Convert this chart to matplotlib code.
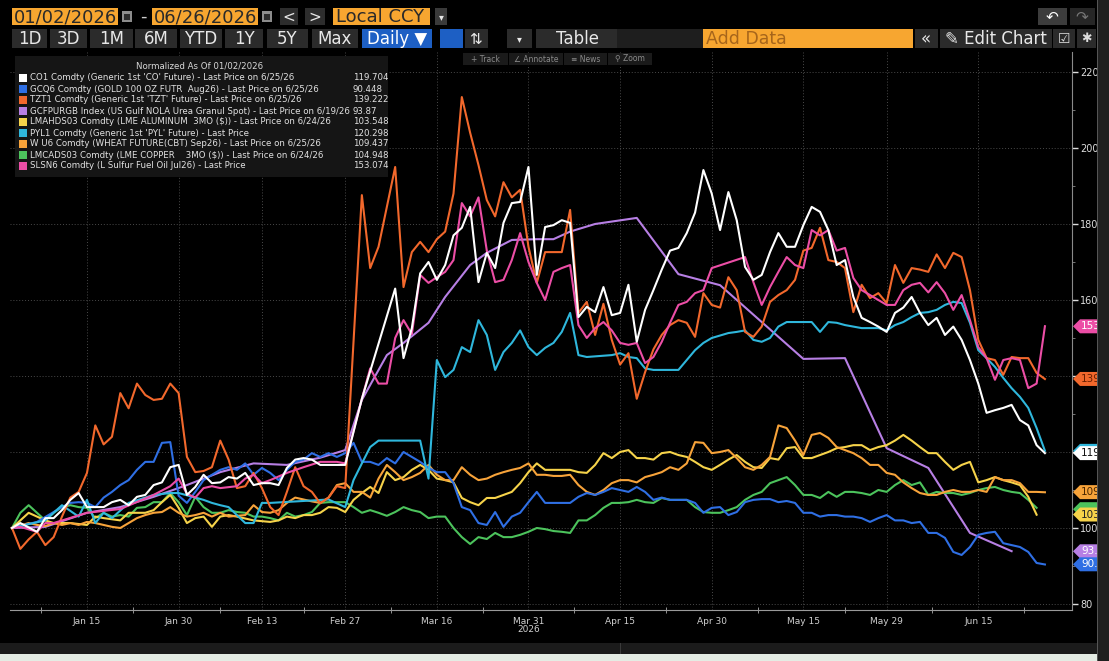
import pandas as pd
import matplotlib
matplotlib.use('Agg')
import matplotlib.pyplot as plt
from matplotlib.patches import Rectangle, Polygon
from matplotlib.lines import Line2D
from matplotlib.transforms import blended_transform_factory

W, H = 1109, 661
NARROW = ['Liberation Sans Narrow', 'DejaVu Sans']
WIDE = ['DejaVu Sans']
plt.rcParams['font.family'] = NARROW

# trading days of the window, series are given as (trading day offset, normalized value)
days = pd.bdate_range('2026-01-02', '2026-06-26')
tick_dates = ['2026-01-15', '2026-01-30', '2026-02-13', '2026-02-27', '2026-03-16', '2026-03-31',
              '2026-04-15', '2026-04-30', '2026-05-15', '2026-05-29', '2026-06-15']

co1 = [(0, 100), (1, 101.3), (3, 99), (4, 102.6), (5, 102.6), (6, 104.7), (7, 107.4), (8, 109.2), (9, 105.5),
       (10, 105.5), (11, 105.5), (12, 106.8), (13, 107.4), (14, 106), (15, 108.2), (16, 108.7), (17, 111.3),
       (18, 112), (19, 116), (20, 116.6), (21, 108.7), (22, 110.8), (23, 114), (24, 111.8), (25, 112),
       (26, 113.4), (27, 113), (28, 114.5), (29, 111.3), (30, 111.8), (31, 111.8), (32, 111.3), (33, 115.8),
       (34, 118), (35, 118.4), (36, 118), (37, 116.6), (38, 116.6), (39, 116.6), (40, 116.6), (42, 134),
       (46, 163), (47, 144.7), (48, 152.6), (49, 167), (50, 170), (51, 165.3), (52, 169.2), (53, 177),
       (54, 179), (55, 184.5), (56, 164.7), (57, 172.4), (58, 168.4), (59, 180.3), (60, 185.5), (61, 185.8),
       (62, 195), (63, 166.6), (64, 179.2), (65, 179.7), (66, 181), (67, 180.3), (68, 155.5), (69, 158.2),
       (70, 156.8), (71, 163.4), (72, 156), (73, 156.6), (74, 164), (75, 149), (76, 157.4), (77, 162.6),
       (78, 168), (79, 173), (80, 173.7), (81, 177.6), (82, 183), (83, 194.2), (84, 188), (85, 178.4),
       (86, 188.4), (87, 181), (88, 168.7), (89, 165.3), (90, 166.6), (91, 172.6), (92, 177.6), (93, 174),
       (94, 174), (95, 179.7), (96, 184.5), (97, 183.2), (98, 178.4), (99, 169.2), (100, 170.5), (101, 160.8),
       (102, 155.3), (103, 154.2), (104, 153), (105, 151.6), (106, 156.6), (107, 158), (108, 160.8),
       (109, 156.6), (110, 153.4), (111, 155.3), (112, 150.8), (113, 153), (114, 149.5), (115, 144.2),
       (116, 138), (117, 130.3), (118, 131), (119, 131.6), (120, 132.4), (121, 128.4), (122, 127),
       (123, 121.8), (124, 119.7)]

gcq6 = [(0, 100), (3, 101.6), (6, 105.5), (7, 106.6), (8, 106.8), (9, 106.6), (10, 105.5), (11, 108),
        (12, 109.5), (13, 111.3), (14, 112.6), (15, 115.3), (16, 117.4), (17, 117.4), (18, 122.4), (19, 122.6),
        (20, 108.5), (21, 106.6), (22, 109.5), (23, 112.6), (24, 114), (25, 115.3), (26, 116), (27, 115.3),
        (28, 117), (29, 114), (30, 115.8), (31, 114.5), (32, 112.6), (33, 115.3), (34, 117.4), (35, 118),
        (36, 119.7), (37, 118.7), (38, 119.7), (39, 118.7), (40, 119.7), (41, 122.4), (42, 117.4), (43, 117.4),
        (44, 116.6), (45, 118.4), (46, 117), (47, 120), (48, 118.7), (49, 117.4), (50, 115.8), (51, 114.7),
        (52, 114.7), (53, 111.8), (54, 105.5), (55, 104.7), (56, 101.3), (57, 100.8), (58, 104.2), (59, 100.3),
        (60, 103), (61, 104), (62, 106.8), (63, 109.5), (64, 106.6), (67, 106.6), (68, 108.2), (69, 109.2),
        (70, 108.7), (71, 109.5), (72, 110.5), (73, 110), (74, 109.5), (75, 110.8), (76, 109.5), (77, 107.4),
        (78, 108), (79, 107.4), (81, 107.4), (82, 106.6), (83, 104), (84, 105.3), (85, 105.5), (86, 103.4),
        (87, 104.2), (88, 106.8), (89, 107.4), (90, 107.6), (91, 107.6), (92, 106.8), (93, 107.1), (94, 106.6),
        (95, 104), (96, 104), (97, 103), (98, 103.4), (99, 103.4), (100, 103), (101, 103), (102, 102.6),
        (103, 101.6), (104, 102.6), (105, 103.4), (106, 102), (107, 102), (108, 101.3), (109, 101.6),
        (110, 98.7), (111, 98.7), (112, 97.4), (113, 93.7), (114, 92.9), (115, 95), (116, 98.2), (117, 98.7),
        (118, 99), (119, 96), (120, 95.5), (121, 95), (122, 93.7), (123, 90.8), (124, 90.4)]

tzt1 = [(0, 100), (1, 94.5), (2, 97), (3, 99), (4, 95.5), (5, 97.6), (6, 103), (7, 108), (8, 109.5), (9, 114.5),
        (10, 127), (11, 122), (12, 124), (13, 135.5), (14, 131.5), (15, 138), (16, 135), (17, 133.7), (18, 134),
        (19, 138), (20, 135.5), (21, 118.7), (22, 114.7), (23, 115), (24, 116), (25, 123), (26, 118),
        (27, 110.5), (28, 111), (29, 114.5), (30, 110.5), (31, 105.5), (32, 103.4), (33, 109.5), (34, 116),
        (35, 111), (36, 109.5), (37, 106.5), (38, 108), (39, 111), (40, 110.5), (42, 187.6), (43, 168.4),
        (44, 174), (45, 184.5), (46, 195), (47, 163.4), (48, 172.6), (49, 175.3), (50, 172.6), (51, 176),
        (52, 178), (53, 188), (54, 213.4), (55, 204), (56, 195.5), (57, 186.3), (58, 182), (59, 191), (60, 187),
        (61, 189), (62, 174), (63, 164.5), (64, 172.6), (65, 172.6), (66, 172.6), (67, 183.7), (68, 156.6),
        (69, 159.5), (70, 150.8), (71, 159), (72, 149.5), (73, 143), (74, 146), (75, 134), (76, 141), (77, 147),
        (78, 150.8), (79, 153.4), (80, 154.7), (81, 154), (82, 150.3), (83, 161.8), (84, 158.7), (85, 158),
        (86, 166), (87, 162.6), (88, 151.6), (89, 150.3), (90, 153), (91, 159.5), (92, 161.3), (93, 162.6),
        (94, 165.3), (95, 173), (96, 173.7), (97, 179), (98, 170.5), (99, 170), (100, 168.4), (101, 156.8),
        (102, 164), (103, 160.5), (104, 161.8), (105, 159.2), (106, 169.2), (107, 164.5), (108, 168.4),
        (109, 168), (110, 167.4), (111, 172), (112, 168.4), (113, 172.4), (114, 171.3), (115, 162.6),
        (116, 149.5), (117, 144.7), (118, 144.2), (119, 140.3), (120, 145), (121, 144.7), (122, 144.7),
        (123, 140.8), (124, 139.2)]

urea = [(0, 100), (4, 100.3), (9, 104), (13, 105.5), (17, 108.2), (21, 111.3), (25, 114.7), (29, 117),
        (33, 116.6), (37, 118.5), (40, 120.5), (42, 133.7), (45, 145.5), (47, 148.7), (50, 154), (52, 160.8),
        (55, 169.2), (57, 172.4), (60, 175.8), (63, 176), (65, 176), (67, 178), (70, 180), (75, 181.6),
        (80, 166.8), (85, 163.9), (95, 144.5), (100, 144.7), (105, 121), (110, 115.8), (115, 98.7), (120, 93.9)]

alum = [(0, 100), (1, 102), (2, 104), (3, 103), (4, 102), (5, 101.3), (7, 101.3), (9, 100.8), (10, 103),
        (11, 102.6), (13, 102), (14, 104), (16, 104), (17, 104.7), (18, 106.8), (19, 108.7), (20, 105.3),
        (21, 101.3), (22, 102.6), (23, 103), (24, 100.3), (25, 103), (26, 103.4), (27, 103), (29, 102),
        (31, 101.6), (32, 102), (33, 103), (34, 102.6), (35, 103.4), (36, 103.4), (37, 104), (38, 105.5),
        (39, 105.3), (40, 104.2), (41, 107.4), (42, 109.2), (43, 110.8), (44, 109.2), (45, 114.7), (46, 112.6),
        (47, 113.4), (48, 115.3), (49, 116.6), (50, 115.3), (51, 113), (52, 112.6), (53, 112), (54, 107.9),
        (55, 106.8), (56, 106), (57, 107.9), (58, 107.9), (59, 108.7), (60, 109.5), (61, 111.8), (62, 114.7),
        (63, 117), (64, 115.3), (67, 115.3), (68, 114.7), (69, 114.5), (70, 116.6), (71, 119.7), (72, 118.4),
        (73, 120), (74, 120.5), (75, 118.4), (76, 118.4), (77, 118), (78, 119.7), (79, 120), (80, 119.2),
        (81, 118.7), (82, 117.4), (83, 116), (84, 115.3), (85, 116.6), (86, 118), (87, 119.2), (88, 117.4),
        (89, 116), (90, 115.8), (91, 118.4), (92, 118), (93, 121), (94, 121.3), (95, 118.4), (96, 118.4),
        (97, 119.2), (98, 120), (99, 121), (100, 121.3), (101, 121.8), (102, 121.8), (103, 120.5), (104, 121.3),
        (105, 121.8), (106, 123), (107, 124.5), (108, 123), (109, 121.3), (110, 119.7), (111, 119.7),
        (112, 117.4), (113, 115.3), (114, 116.6), (115, 117.4), (116, 112), (117, 112.6), (118, 113.4),
        (119, 112.6), (120, 112), (121, 111.3), (122, 108.2), (123, 103.5)]

pyl1 = [(0, 100), (4, 102), (6, 106), (8, 103), (9, 107.4), (10, 101.3), (11, 104), (12, 102.6), (14, 106.6),
        (17, 108.7), (19, 109.2), (20, 109.2), (23, 107.4), (24, 106.6), (25, 106), (26, 105.5), (27, 103.4),
        (28, 101.3), (29, 101.3), (30, 106.6), (31, 106.6), (38, 107.5), (40, 105.5), (41, 112.6), (42, 117),
        (43, 121.3), (44, 123), (49, 123), (50, 113), (51, 144.2), (52, 139.7), (53, 141.6), (54, 147.6),
        (55, 146.3), (56, 154.7), (57, 150.8), (58, 141.6), (59, 146.3), (60, 148.7), (61, 152), (62, 147.6),
        (63, 145.5), (64, 147.4), (65, 148.7), (66, 151.6), (67, 156.6), (68, 145.5), (69, 145), (72, 145.5),
        (73, 146), (74, 145), (75, 144.7), (76, 142), (77, 141.6), (80, 141.6), (81, 144.2), (82, 146.8),
        (83, 148.7), (84, 150), (86, 151.3), (87, 151.6), (88, 152), (89, 149.5), (90, 149), (91, 150),
        (92, 153), (93, 154.2), (96, 154.2), (97, 151.6), (98, 154.2), (99, 154), (100, 153.4), (101, 153),
        (102, 152.6), (104, 152.6), (105, 152), (106, 153.4), (107, 154.2), (108, 155.5), (109, 156.6),
        (110, 156.8), (111, 157.4), (112, 158.7), (113, 159.5), (114, 159.2), (115, 154), (116, 146.8),
        (117, 144.7), (118, 142.4), (119, 139.5), (120, 136.8), (121, 134.5), (122, 131.6), (123, 126.3),
        (124, 120.3)]

wheat = [(0, 100), (2, 101.3), (3, 100.8), (4, 100.5), (5, 101.3), (6, 100.8), (7, 101.3), (8, 100.8),
         (9, 101.6), (10, 101.3), (11, 100.8), (12, 100.3), (13, 100), (14, 101.3), (15, 102.6), (16, 103.4),
         (17, 104), (18, 104.2), (19, 105.5), (20, 104), (21, 103), (22, 103.4), (23, 104), (24, 103), (25, 104),
         (26, 103), (28, 103.4), (29, 106), (30, 104.2), (31, 104), (32, 104.7), (33, 106.6), (34, 108),
         (35, 107.5), (36, 107), (37, 106.6), (38, 108), (39, 111.3), (40, 111.8), (41, 109.5), (42, 109.5),
         (43, 108), (44, 113), (45, 116.6), (46, 114.7), (47, 112.6), (48, 113.4), (49, 114.5), (50, 116.6),
         (51, 114), (52, 112.6), (53, 112.6), (54, 116), (55, 114), (56, 112.6), (57, 113), (58, 114),
         (59, 114.7), (60, 115.3), (61, 115.8), (62, 117), (63, 114), (64, 114), (65, 113.7), (66, 113.7),
         (67, 114), (68, 111.3), (69, 109.5), (70, 108.7), (71, 110), (72, 111.8), (73, 112.6), (74, 112.6),
         (75, 112), (76, 113.4), (77, 114), (78, 114.7), (79, 116), (80, 115.3), (81, 117), (82, 122.6),
         (83, 122.4), (84, 119.7), (85, 120), (86, 120.5), (87, 118.4), (88, 116), (89, 115.3), (90, 116.6),
         (91, 118.7), (92, 127), (93, 126.3), (94, 123), (95, 119.2), (96, 124.5), (97, 125), (98, 123.7),
         (99, 121.3), (100, 120.5), (101, 119.7), (102, 118.4), (103, 116.6), (104, 116.6), (105, 114.5),
         (106, 114), (107, 112), (108, 110.5), (109, 109.2), (110, 108.7), (111, 108.7), (112, 109.5),
         (113, 110), (114, 109.5), (115, 109.5), (116, 110), (117, 109.5), (118, 113.4), (119, 112.6),
         (120, 112.6), (121, 111.8), (122, 109.5), (123, 109.5), (124, 109.4)]

copper = [(0, 100), (1, 104), (2, 106), (3, 104), (4, 102), (5, 104), (6, 105.5), (7, 106), (8, 105.5),
          (9, 105.3), (10, 102.6), (11, 104), (12, 103), (13, 103.4), (14, 103), (15, 105.3), (16, 105.5),
          (17, 106.8), (18, 106.8), (19, 109.2), (20, 106.8), (21, 103.4), (22, 108.2), (23, 105.5), (24, 104),
          (25, 104), (26, 104.7), (27, 104.2), (28, 104), (29, 103), (30, 103), (31, 102.6), (32, 102),
          (33, 104), (34, 103), (35, 103.4), (36, 104.2), (37, 106.6), (38, 106.8), (39, 106.8), (40, 106.8),
          (41, 105.5), (42, 104), (43, 104.7), (44, 104), (45, 103.2), (46, 104.2), (47, 105.5), (48, 104.7),
          (49, 104.2), (50, 102.6), (51, 103), (52, 103), (53, 100), (54, 97.6), (55, 95.8), (56, 97.6),
          (57, 97.1), (58, 98.7), (59, 97.6), (60, 97.6), (61, 98.2), (62, 99), (63, 100), (64, 99.7),
          (65, 99.2), (66, 99), (67, 98.7), (68, 102), (69, 102), (70, 103.4), (71, 105.3), (72, 106.6),
          (73, 106.6), (74, 106.8), (75, 107.4), (76, 106.8), (77, 106.6), (78, 107.9), (79, 107.4), (80, 107.4),
          (81, 107.4), (82, 105.5), (83, 104.2), (84, 104), (85, 104), (86, 104.7), (87, 105.5), (88, 107.4),
          (89, 108.7), (90, 109.5), (91, 111.8), (92, 112.6), (93, 113.4), (94, 111.3), (95, 108.7),
          (96, 108.7), (97, 107.9), (98, 109.5), (99, 108.2), (100, 109.5), (101, 109.5), (102, 109.2),
          (103, 108.7), (104, 110), (105, 109.5), (106, 111.3), (107, 112.6), (108, 111.3), (109, 112),
          (110, 108.7), (111, 109.5), (112, 109.2), (113, 109.2), (114, 108.7), (115, 109.2), (116, 110),
          (117, 110.5), (118, 110.8), (119, 110), (120, 109.5), (121, 109.2), (122, 107.4), (123, 105.3)]

slsn6 = [(0, 100), (1, 100.3), (3, 99), (4, 101.3), (5, 101.3), (9, 104), (13, 105), (17, 108.7), (19, 111),
         (20, 113), (21, 109), (22, 108), (23, 110.5), (24, 111), (25, 110.5), (27, 111), (28, 113), (29, 114),
         (30, 111.8), (31, 112.6), (33, 114.5), (35, 116), (37, 117.4), (39, 117.4), (40, 117), (42, 134),
         (43, 142), (44, 138), (45, 138), (46, 150), (47, 154.7), (48, 151), (49, 166.6), (50, 164.5), (51, 166),
         (52, 167.4), (53, 170.5), (54, 185.5), (55, 182), (56, 187), (57, 173), (58, 164.7), (59, 165.3),
         (60, 170.5), (61, 177.6), (62, 170), (63, 164.5), (64, 160), (65, 167.4), (66, 168.4), (67, 169.2),
         (68, 153.4), (69, 150), (70, 152.6), (71, 154.2), (72, 152), (73, 148.7), (74, 148.2), (75, 148.7),
         (76, 143.4), (77, 145), (78, 149), (79, 154), (80, 158.7), (81, 159.5), (82, 161.8), (83, 162.6),
         (84, 168.4), (88, 171.3), (89, 164.7), (90, 158.7), (91, 163.4), (92, 167.4), (93, 171.3), (94, 169.2),
         (95, 168.4), (96, 178.4), (97, 177), (98, 178.4), (99, 173), (100, 173.7), (101, 165.8), (102, 162.6),
         (103, 161.3), (104, 160), (105, 158.7), (106, 158.7), (107, 162.6), (108, 164), (109, 164.5),
         (110, 162), (111, 164.7), (112, 161.8), (113, 157.4), (114, 161.3), (115, 154.7), (116, 147.6),
         (117, 144.7), (118, 139), (119, 144.2), (120, 144.7), (121, 144.2), (122, 136.8), (123, 138),
         (124, 153.1)]

legend_names = ["CO1 Comdty (Generic 1st 'CO' Future) - Last Price on 6/25/26",
                "GCQ6 Comdty (GOLD 100 OZ FUTR  Aug26) - Last Price on 6/25/26",
                "TZT1 Comdty (Generic 1st 'TZT' Future) - Last Price on 6/25/26",
                "GCFPURGB Index (US Gulf NOLA Urea Granul Spot) - Last Price on 6/19/26",
                "LMAHDS03 Comdty (LME ALUMINUM  3MO ($)) - Last Price on 6/24/26",
                "PYL1 Comdty (Generic 1st 'PYL' Future) - Last Price",
                "W U6 Comdty (WHEAT FUTURE(CBT) Sep26) - Last Price on 6/25/26",
                "LMCADS03 Comdty (LME COPPER    3MO ($)) - Last Price on 6/24/26",
                "SLSN6 Comdty (L Sulfur Fuel Oil Jul26) - Last Price"]
last_values = ['119.704', '90.448', '139.222', '93.87', '103.548', '120.298', '109.437', '104.948', '153.074']
colors = ['#ffffff', '#2f6fe4', '#f2682c', '#b77fe4', '#f6d34a', '#2fb7dc', '#f7a33a', '#4cc35c', '#ec4ea6']
all_series = [co1, gcq6, tzt1, urea, alum, pyl1, wheat, copper, slsn6]
draw_order = [3, 7, 4, 6, 1, 5, 2, 8, 0]

fig = plt.figure(figsize=(W / 100, H / 100), dpi=100, facecolor='black')


def fx(x):
    return x / W


def fy(y):
    return 1 - y / H


def box(x0, y0, x1, y1, color, z=2):
    fig.patches.append(Rectangle((fx(x0), fy(y1)), fx(x1) - fx(x0), fy(y0) - fy(y1),
                                 transform=fig.transFigure, facecolor=color, edgecolor='none', zorder=z))


def text(x, y, s, size, color, ha='left', family=NARROW, z=3):
    fig.text(fx(x), fy(y), s, fontsize=size, color=color, ha=ha, va='center', family=family, zorder=z)


# main axes
ax = fig.add_axes([fx(10), fy(610), fx(1072) - fx(10), fy(52) - fy(610)])
ax.set_facecolor('black')
y_lo, y_hi = 78.42, 225.26
ax.set_ylim(y_lo, y_hi)
ax.set_xlim(-0.24, 127.25)

for i in draw_order:
    d, v = zip(*all_series[i])
    ax.plot(d, v, color=colors[i], lw=1.5, zorder=3 + draw_order.index(i), solid_joinstyle='round')

tick_pos = days.get_indexer(pd.to_datetime(tick_dates))
ax.set_xticks(tick_pos)
ax.set_xticklabels([days[i].strftime('%b %d') for i in tick_pos])
mids = [(a + b) / 2 for a, b in zip(tick_pos[:-1], tick_pos[1:])]
ax.set_xticks([tick_pos[0] - 5.5] + mids + [tick_pos[-1] + 5.5], minor=True)
ax.tick_params(axis='x', which='major', length=0, pad=5, labelsize=6.5, labelcolor='#d0d0d0')
ax.tick_params(axis='x', which='minor', length=4, direction='inout', color='#aaaaaa')
ax.annotate('2026', xy=(tick_pos[5], 0), xycoords=('data', 'axes fraction'), xytext=(0, -14),
            textcoords='offset points', ha='center', va='center', fontsize=6.5, color='#d0d0d0')

# 120 and 140 sit under the last-value tags, so their labels stay blank
ax.yaxis.tick_right()
y_ticks = list(range(80, 221, 20))
ax.set_yticks(y_ticks)
ax.set_yticklabels(['' if t in (120, 140) else str(t) for t in y_ticks])
ax.set_yticks(range(90, 221, 10), minor=True)
ax.tick_params(axis='y', which='major', length=4, width=1, color='#dddddd', pad=2,
               labelsize=7, labelcolor='#dddddd')
ax.tick_params(axis='y', which='minor', length=2, color='#888888')

ax.grid(True, which='major', color='#4a4a4a', linestyle=(0, (1, 2)), lw=0.7)
for s in ['top', 'left']:
    ax.spines[s].set_visible(False)
ax.spines['right'].set_color('#8a8a8a')
ax.spines['bottom'].set_color('#9a9a9a')

# last value tags on the right axis; cyan and green sit behind white and yellow
tag_trans = blended_transform_factory(fig.transFigure, ax.transData)
hh = 7 * (y_hi - y_lo) / (610 - 52)
tag_text = ['#111111', '#ffffff', '#6a1f00', '#ffffff', '#222222', None, '#4a2600', None, '#ffffff']
tag_order = [3, 1, 7, 4, 6, 5, 0, 2, 8]
for k, i in enumerate(tag_order):
    v = float(last_values[i])
    pts = [(fx(1073), v), (fx(1080), v + hh), (fx(1112), v + hh), (fx(1112), v - hh), (fx(1080), v - hh)]
    ax.add_patch(Polygon(pts, closed=True, transform=tag_trans, facecolor=colors[i], edgecolor='none',
                         clip_on=False, zorder=20 + 2 * k))
    if tag_text[i]:
        ax.text(fx(1081), v, last_values[i][:4], transform=tag_trans, fontsize=7.5, color=tag_text[i],
                va='center', ha='left', clip_on=False, zorder=21 + 2 * k)

box(1097, 0, 1109, 661, '#1f1f1f', z=6)
box(1097, 0, 1098, 661, '#555555', z=6)

# bottom strips
box(0, 643, 1109, 654, '#1b1b1b')
box(620, 643, 621, 654, '#3a3a3a')
box(0, 654, 1109, 661, '#e4ece4')

# legend panel
box(15, 56, 388, 177, '#151515')
text(200, 66, 'Normalized As Of 01/02/2026', 6.2, '#d8d8d8', ha='center')
for i, name in enumerate(legend_names):
    y = 78 + 11 * i
    box(19, y - 4, 27, y + 4, colors[i], z=3)
    text(30, y, name, 6.2, '#e2e2e2')
    text(353, y, last_values[i], 6.2, '#e2e2e2')

# toolbar row 1
ORANGE = '#f7a630'
box(12, 8, 118, 25, ORANGE)
text(14, 17, '01/02/2026', 13, '#2a2a2a', family=WIDE)
box(122, 11, 132, 22, '#8c8c8c')
box(124, 14, 130, 20, '#2a2a2a', z=3)
text(143, 17, '-', 13, '#cccccc', ha='center', family=WIDE)
box(152, 8, 258, 25, ORANGE)
text(154, 17, '06/26/2026', 13, '#2a2a2a', family=WIDE)
box(262, 11, 272, 22, '#8c8c8c')
box(264, 14, 270, 20, '#2a2a2a', z=3)
box(280, 8, 298, 25, '#2d2d2d')
text(289, 17, '<', 11, '#e6e6e6', ha='center', family=WIDE)
box(305, 8, 325, 25, '#2d2d2d')
text(315, 17, '>', 11, '#e6e6e6', ha='center', family=WIDE)
box(333, 8, 430, 25, ORANGE)
text(336, 17, 'Local CCY', 13, '#2a2a2a', family=WIDE)
box(435, 8, 447, 25, '#3a3a3a')
text(441, 17, '▾', 7, '#e6e6e6', ha='center', family=WIDE)
box(1038, 8, 1067, 25, '#3c3c3c')
text(1052, 17, '↶', 11, '#ffffff', ha='center', family=WIDE)
box(1070, 8, 1095, 25, '#262626')
text(1082, 17, '↷', 11, '#777777', ha='center', family=WIDE)

# toolbar row 2
for lab, x0, x1 in [('1D', 12, 47), ('3D', 50, 87), ('1M', 90, 133), ('6M', 135, 177), ('YTD', 180, 222),
                    ('1Y', 225, 263), ('5Y', 267, 308), ('Max', 312, 358)]:
    box(x0, 29, x1, 48, '#2b2b2b')
    text((x0 + x1) / 2, 39, lab, 12, '#e8e8e8', ha='center', family=WIDE)
box(362, 29, 432, 48, '#1d5fc4')
text(397, 39, 'Daily ▼', 12, '#ffffff', ha='center', family=WIDE)
box(440, 29, 463, 48, '#1d5fc4')
fig.add_artist(Line2D([fx(445), fx(449), fx(453), fx(458)], [fy(42), fy(36), fy(40), fy(34)],
                      transform=fig.transFigure, color='#dfe8ff', lw=1))
fig.add_artist(Line2D([fx(445), fx(458)], [fy(44), fy(44)], transform=fig.transFigure, color='#dfe8ff', lw=0.8))
box(465, 29, 488, 48, '#2b2b2b')
text(476, 39, '⇅', 11, '#e8e8e8', ha='center', family=WIDE)
box(507, 29, 532, 48, '#2b2b2b')
text(519, 39, '▾', 7, '#e8e8e8', ha='center', family=WIDE)
box(536, 29, 617, 48, '#2b2b2b')
text(577, 39, 'Table', 12, '#e8e8e8', ha='center', family=WIDE)
box(617, 29, 703, 48, '#1e1e1e')
box(703, 29, 913, 48, ORANGE)
text(706, 39, 'Add Data', 12.5, '#a6651b', family=WIDE)
box(915, 29, 938, 48, '#2b2b2b')
text(926, 39, '«', 12, '#e8e8e8', ha='center', family=WIDE)
box(940, 29, 1052, 48, '#2b2b2b')
text(996, 39, '✎ Edit Chart', 12, '#e8e8e8', ha='center', family=WIDE)
box(1053, 29, 1075, 48, '#2b2b2b')
text(1064, 39, '☑', 10, '#dddddd', ha='center', family=WIDE)
box(1077, 29, 1096, 48, '#2b2b2b')
text(1086, 39, '✱', 9, '#dddddd', ha='center', family=WIDE)

# toolbar row 3
for lab, x0, x1 in [('+ Track', 463, 508), ('∠ Annotate', 509, 563), ('≡ News', 564, 607), ('⚲ Zoom', 608, 652)]:
    box(x0, 53, x1, 65, '#1a1a1a')
    text((x0 + x1) / 2, 59, lab, 5.5, '#8a8a8a', ha='center')

fig.savefig('out.png', dpi=100, facecolor='black')
